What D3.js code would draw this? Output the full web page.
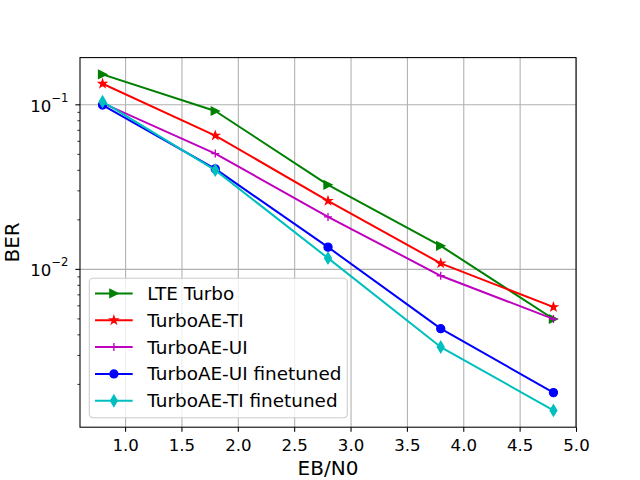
<!DOCTYPE html>
<html>
<head>
<meta charset="utf-8">
<script src="https://cdn.jsdelivr.net/npm/d3@7"></script>
<style>
  html, body { margin: 0; padding: 0; background: #fff; }
  svg { display: block; }
  text { font-family: "DejaVu Sans", sans-serif; fill: #000; }
</style>
</head>
<body>
<svg id="chart" width="640" height="480"></svg>
<script>
// ---- data ----
const ebn0 = [0.8, 1.8, 2.8, 3.8, 4.8];
const lteTurbo = [0.152, 0.0911, 0.0324, 0.0138, 0.00496];
const turboAE_TI = [0.1335, 0.0646, 0.0259, 0.0108, 0.00586];
const turboAE_UI = [0.1018, 0.0502, 0.0207, 0.00908, 0.00496];
const turboAE_UI_ft = [0.099, 0.0405, 0.01355, 0.00433, 0.00177];
const turboAE_TI_ft = [0.1038, 0.0398, 0.01162, 0.00335, 0.00138];
const seriesNames = ["LTE Turbo", "TurboAE-TI", "TurboAE-UI", "TurboAE-UI finetuned", "TurboAE-TI finetuned"];
const xTickValues = [1.0, 1.5, 2.0, 2.5, 3.0, 3.5, 4.0, 4.5, 5.0];
const yMajorTicks = [0.1, 0.01];
const yMajorLabels = [["10", "\u22121"], ["10", "\u22122"]];
const xLabel = "EB/N0";
const yLabel = "BER";

// ---- styles ----
const colors = ["#008000", "#ff0000", "#bf00bf", "#0000ff", "#00bfbf"];
const markers = ["triRight", "star", "plus", "circle", "thinDiamond"];
const allValues = [lteTurbo, turboAE_TI, turboAE_UI, turboAE_UI_ft, turboAE_TI_ft];
const series = seriesNames.map((n, i) => ({
  name: n, color: colors[i], marker: markers[i],
  points: ebn0.map((x, j) => ({ x: x, y: allValues[i][j] }))
}));

const L = 80, R = 576, T = 57.6, B = 427.2;
const svg = d3.select("#chart");

// domains with matplotlib-like 5% margins
const xmin = d3.min(ebn0), xmax = d3.max(ebn0);
const xm = (xmax - xmin) * 0.05;
const x = d3.scaleLinear().domain([xmin - xm, xmax + xm]).range([L, R]);
const flat = allValues.flat();
const lmin = Math.log10(d3.min(flat)), lmax = Math.log10(d3.max(flat));
const lm = (lmax - lmin) * 0.05;
const y = d3.scaleLog().domain([Math.pow(10, lmin - lm), Math.pow(10, lmax + lm)]).range([B, T]);

// minor ticks for log axis
const yMinor = [];
[-3, -2, -1].forEach(e => { for (let k = 2; k <= 9; k++) { const v = k * Math.pow(10, e); if (v >= y.domain()[0] && v <= y.domain()[1]) yMinor.push(v); } });

// grid
const gridX = svg.append("g").attr("transform", `translate(0,${B})`)
  .call(d3.axisBottom(x).tickValues(xTickValues).tickSize(-(B - T)).tickFormat(""));
const gridY = svg.append("g").attr("transform", `translate(${L},0)`)
  .call(d3.axisLeft(y).tickValues(yMajorTicks).tickSize(-(R - L)).tickFormat(""));
[gridX, gridY].forEach(g => {
  g.select(".domain").remove();
  g.selectAll("line").attr("stroke", "#b0b0b0").attr("stroke-width", 1.07);
});

// clip
svg.append("clipPath").attr("id", "clip").append("rect")
  .attr("x", L).attr("y", T).attr("width", R - L).attr("height", B - T);

// marker shapes
function starPath(r) {
  const ri = r * 0.381966; let p = [];
  for (let i = 0; i < 10; i++) {
    const a = Math.PI / 2 + i * Math.PI / 5;
    const rr = i % 2 === 0 ? r : ri;
    p.push([rr * Math.cos(a), -rr * Math.sin(a)]);
  }
  return "M" + p.map(q => q[0].toFixed(2) + "," + q[1].toFixed(2)).join("L") + "Z";
}
function drawMarker(g, type, color) {
  const s = 4; // half of 8px marker
  if (type === "circle") {
    g.append("circle").attr("r", s).attr("fill", color).attr("stroke", color).attr("stroke-width", 1.33);
  } else if (type === "triRight") {
    g.append("path").attr("d", `M${s},0L${-s},${-s}L${-s},${s}Z`).attr("fill", color).attr("stroke", color).attr("stroke-width", 1.33).attr("stroke-linejoin", "miter");
  } else if (type === "star") {
    g.append("path").attr("d", starPath(s)).attr("fill", color).attr("stroke", color).attr("stroke-width", 1.33);
  } else if (type === "plus") {
    g.append("path").attr("d", `M${-s},0L${s},0M0,${-s}L0,${s}`).attr("fill", "none").attr("stroke", color).attr("stroke-width", 1.33);
  } else if (type === "thinDiamond") {
    const h = 5.66, w = 3.39;
    g.append("path").attr("d", `M0,${-h}L${w},0L0,${h}L${-w},0Z`).attr("fill", color).attr("stroke", color).attr("stroke-width", 1.33);
  }
}

// series
const line = d3.line().x(d => x(d.x)).y(d => y(d.y));
const plot = svg.append("g").attr("clip-path", "url(#clip)");
series.forEach(s => {
  const g = plot.append("g");
  g.append("path").datum(s.points).attr("d", line)
    .attr("fill", "none").attr("stroke", s.color).attr("stroke-width", 2)
    .attr("stroke-linejoin", "round").attr("stroke-linecap", "square");
  g.selectAll(".m").data(s.points).enter().append("g")
    .attr("transform", d => `translate(${x(d.x)},${y(d.y)})`)
    .each(function () { drawMarker(d3.select(this), s.marker, s.color); });
});

// axes
const xAxis = svg.append("g").attr("transform", `translate(0,${B})`)
  .call(d3.axisBottom(x).tickValues(xTickValues).tickFormat(d3.format(".1f")).tickSize(4.67).tickPadding(7.8));
xAxis.select(".domain").remove();
xAxis.selectAll("line").attr("stroke", "#000").attr("stroke-width", 1.07);
xAxis.selectAll("text").attr("font-size", "16.6px").attr("font-family", "DejaVu Sans").attr("fill", "#000");

const yAxis = svg.append("g").attr("transform", `translate(${L},0)`)
  .call(d3.axisLeft(y).tickValues(yMajorTicks).tickFormat("").tickSize(4.67));
yAxis.select(".domain").remove();
yAxis.selectAll("line").attr("stroke", "#000").attr("stroke-width", 1.07);
yAxis.selectAll(".tick").each(function (d, i) {
  const t = d3.select(this).select("text")
    .attr("x", -11.5).attr("dy", null).attr("y", 7)
    .attr("text-anchor", "end").attr("font-size", "16.6px").attr("fill", "#000");
  t.text(null);
  t.append("tspan").text(yMajorLabels[i][0]);
  t.append("tspan").attr("font-size", "11.6px").attr("dy", -10).text(yMajorLabels[i][1]);
});
const yMinorAxis = svg.append("g").attr("transform", `translate(${L},0)`)
  .call(d3.axisLeft(y).tickValues(yMinor).tickFormat("").tickSize(2.67));
yMinorAxis.select(".domain").remove();
yMinorAxis.selectAll("line").attr("stroke", "#000").attr("stroke-width", 0.8);

// spines
svg.append("rect").attr("x", L).attr("y", T).attr("width", R - L).attr("height", B - T)
  .attr("fill", "none").attr("stroke", "#000").attr("stroke-width", 1.07);

// axis labels
svg.append("text").attr("x", (L + R) / 2).attr("y", 475).attr("text-anchor", "middle")
  .attr("font-size", "20px").text(xLabel);
svg.append("text").attr("transform", `translate(18.5,${(T + B) / 2}) rotate(-90)`)
  .attr("text-anchor", "middle").attr("font-size", "20px").text(yLabel);

// legend
const leg = svg.append("g");
leg.append("rect").attr("x", 89.3).attr("y", 278.3).attr("width", 258).attr("height", 139.4)
  .attr("rx", 3.6).attr("ry", 3.6)
  .attr("fill", "#fff").attr("fill-opacity", 0.8).attr("stroke", "#cccccc").attr("stroke-width", 1.07);
series.forEach((s, i) => {
  const cy = 293.4 + i * 26.85;
  const g = leg.append("g");
  g.append("line").attr("x1", 95).attr("x2", 132.7).attr("y1", cy).attr("y2", cy)
    .attr("stroke", s.color).attr("stroke-width", 2);
  const mg = g.append("g").attr("transform", `translate(113.9,${cy})`);
  drawMarker(mg, s.marker, s.color);
  g.append("text").attr("x", 147.3).attr("y", cy + 6.5).attr("font-size", "18.4px").text(s.name);
});
</script>
</body>
</html>
